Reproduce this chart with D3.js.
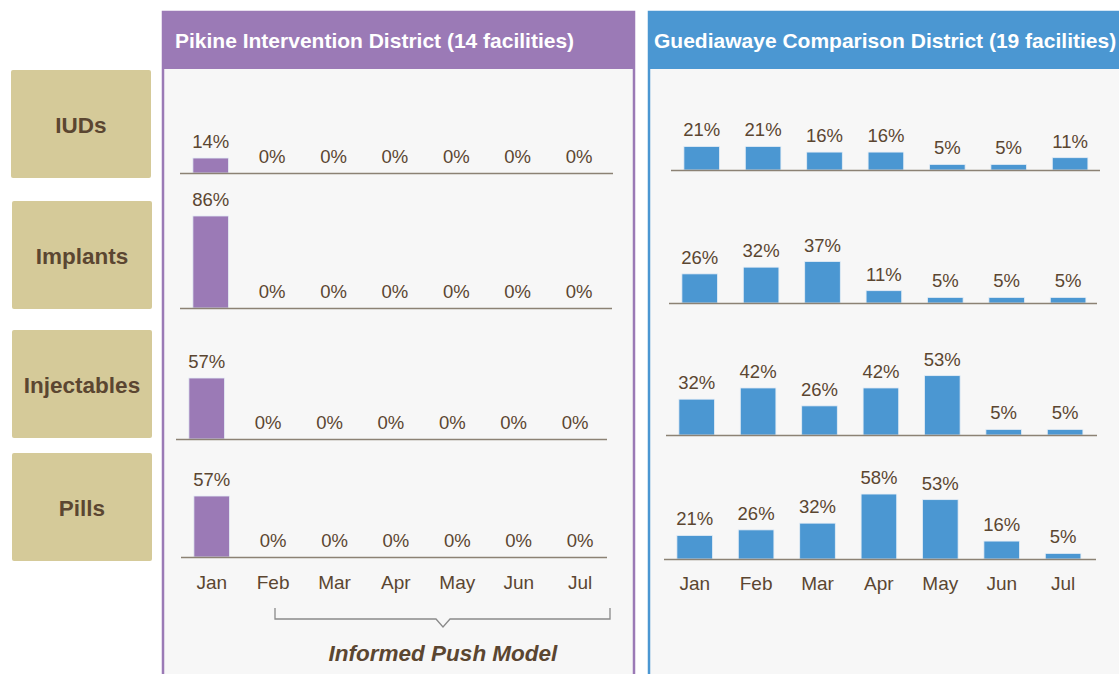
<!DOCTYPE html>
<html>
<head>
<meta charset="utf-8">
<script src="https://cdn.jsdelivr.net/npm/d3@7"></script>
<style>
  body { margin: 0; background: #fff; }
  svg { display: block; font-family: "Liberation Sans", Arial, sans-serif; }
</style>
</head>
<body>
<div id="container"></div>
<script>
var months = ["Jan", "Feb", "Mar", "Apr", "May", "Jun", "Jul"];
var methods = ["IUDs", "Implants", "Injectables", "Pills"];
var districts = ["Pikine Intervention District (14 facilities)", "Guediawaye Comparison District (19 facilities)"];

// share of facilities stocked out, %, one row per method
var pikine = [
    [14, 0, 0, 0, 0, 0, 0],
    [86, 0, 0, 0, 0, 0, 0],
    [57, 0, 0, 0, 0, 0, 0],
    [57, 0, 0, 0, 0, 0, 0]
];
var guediawaye = [
    [21, 21, 16, 16, 5, 5, 11],
    [26, 32, 37, 11, 5, 5, 5],
    [32, 42, 26, 42, 53, 5, 5],
    [21, 26, 32, 58, 53, 16, 5]
];
var bracketLabel = "Informed Push Model";

var width = 1119, height = 674;
var brown = "#5b4631";

var svg = d3.select("#container").append("svg")
    .attr("width", width)
    .attr("height", height);

// method label boxes on the left
var labelBoxes = [[11, 70], [12, 201], [12, 330], [12, 453]];
methods.forEach(function(m, i) {
    var g = svg.append("g").attr("transform", "translate(" + labelBoxes[i][0] + "," + labelBoxes[i][1] + ")");
    g.append("rect")
        .attr("width", 140).attr("height", 108)
        .attr("rx", 2)
        .attr("fill", "#d5ca99");
    g.append("text")
        .attr("x", 70).attr("y", 63)
        .attr("text-anchor", "middle")
        .attr("font-size", 22.5).attr("font-weight", "bold")
        .attr("fill", brown)
        .text(m);
});

var panels = [
    {x: 163, w: 471, color: "#9b7ab6", data: pikine, titleX: 175, scaleH: 107,
     base: [173, 308, 439, 557], x0: [180, 180, 176, 181], x1: [613, 612, 607, 607], monthY: 586},
    {x: 649, w: 474, color: "#4b97d2", data: guediawaye, titleX: 654, scaleH: 112,
     base: [170, 303, 435, 559], x0: [671, 669, 666, 664], x1: [1100, 1097, 1097, 1096], monthY: 587}
];

panels.forEach(function(p, pi) {
    var y = d3.scaleLinear().domain([0, 100]).range([0, p.scaleH]);

    svg.append("rect")
        .attr("x", p.x).attr("y", 12)
        .attr("width", p.w).attr("height", height + 20)
        .attr("fill", "#f7f7f7")
        .attr("stroke", p.color).attr("stroke-width", 2.5);
    svg.append("rect")
        .attr("x", p.x - 1).attr("y", 11)
        .attr("width", p.w + 2).attr("height", 58)
        .attr("fill", p.color);
    svg.append("text")
        .attr("x", p.titleX).attr("y", 48)
        .attr("font-size", 21).attr("font-weight", "bold")
        .attr("fill", "#fff")
        .text(districts[pi]);

    p.data.forEach(function(row, ri) {
        var x = d3.scaleBand()
            .domain(months)
            .range([p.x0[ri], p.x0[ri] + 7 * 61.4])
            .paddingInner(0.42)
            .paddingOuter(0.21);
        var base = p.base[ri];
        var g = svg.append("g");

        g.selectAll("rect.bar")
            .data(row)
            .join("rect")
            .attr("class", "bar")
            .attr("x", function(d, i) { return x(months[i]); })
            .attr("y", function(d) { return base - y(d); })
            .attr("width", x.bandwidth())
            .attr("height", function(d) { return y(d); })
            .attr("fill", p.color)
            .attr("stroke", "#e6eef6").attr("stroke-width", 0.8);

        g.append("line")
            .attr("x1", p.x0[ri]).attr("x2", p.x1[ri])
            .attr("y1", base + 0.5).attr("y2", base + 0.5)
            .attr("stroke", "#8c8274").attr("stroke-width", 1.5);

        g.selectAll("text.val")
            .data(row)
            .join("text")
            .attr("class", "val")
            .attr("x", function(d, i) { return x(months[i]) + x.bandwidth() / 2; })
            .attr("y", function(d) { return base - y(d) - 10; })
            .attr("text-anchor", "middle")
            .attr("font-size", 18.5)
            .attr("fill", brown)
            .text(function(d) { return d + "%"; });

        if (ri === p.data.length - 1) {
            var axis = d3.axisBottom(x).tickSize(0).tickPadding(0);
            var ag = svg.append("g")
                .attr("transform", "translate(0," + (p.monthY - 12) + ")")
                .call(axis);
            ag.select(".domain").remove();
            ag.selectAll("text")
                .attr("dy", "0.8em")
                .attr("font-size", 19)
                .attr("font-family", "Liberation Sans, Arial, sans-serif")
                .attr("fill", brown);
        }
    });
});

// bracket under Feb-Jul of the intervention district
svg.append("path")
    .attr("d", "M275,608 V619 H436 L443,627 L450,619 H610 V608")
    .attr("fill", "none")
    .attr("stroke", "#8a8a8a").attr("stroke-width", 1.3);
svg.append("text")
    .attr("x", 443).attr("y", 661)
    .attr("text-anchor", "middle")
    .attr("font-size", 22.5).attr("font-weight", "bold").attr("font-style", "italic")
    .attr("fill", brown)
    .text(bracketLabel);
</script>
</body>
</html>
